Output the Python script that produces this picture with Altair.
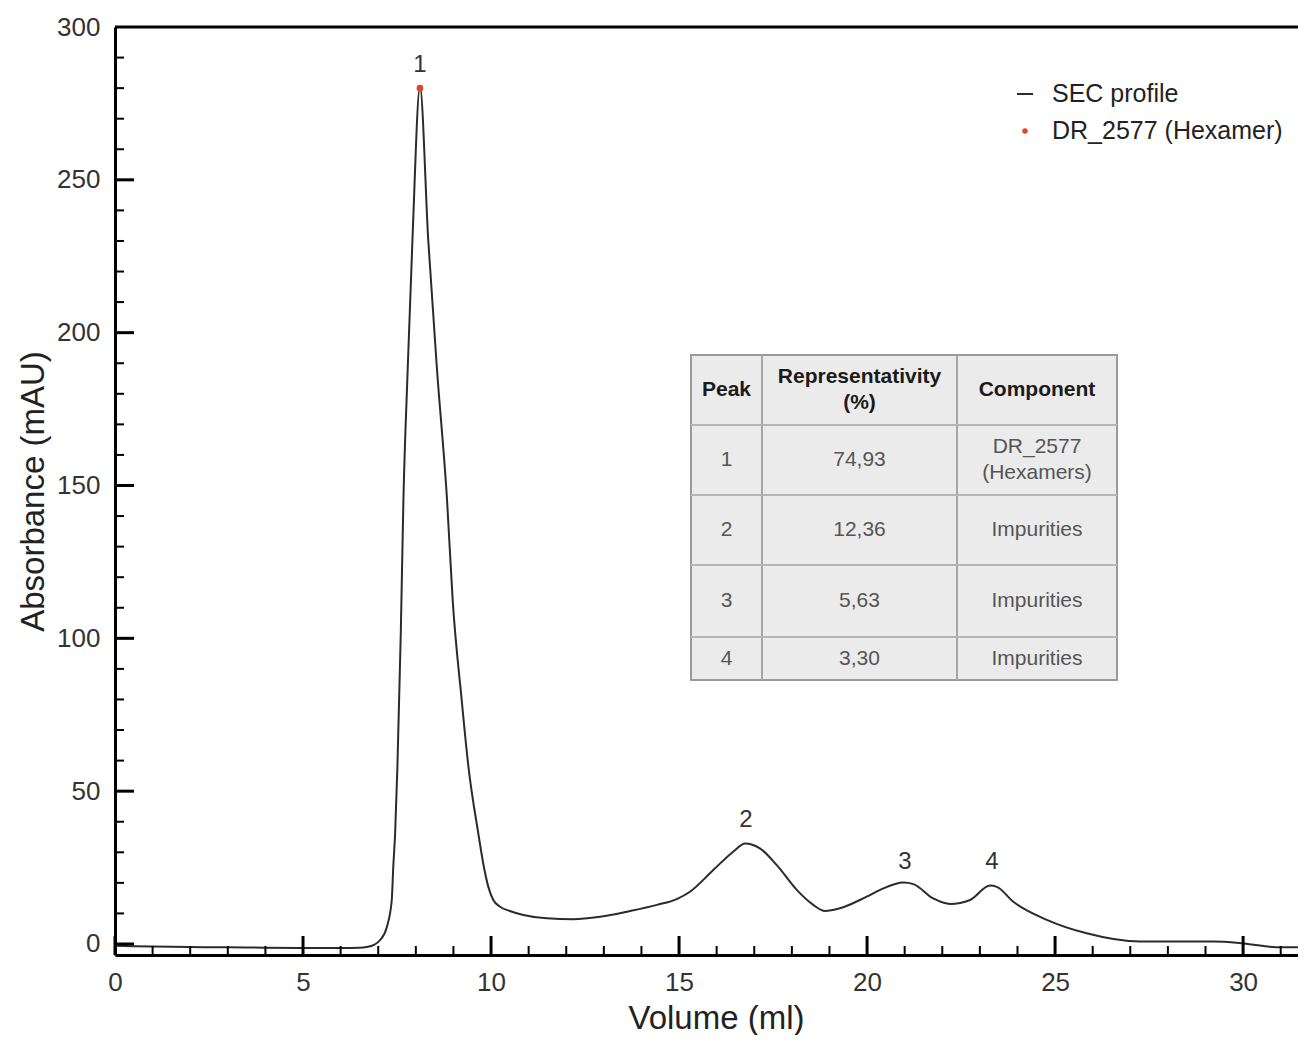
import altair as alt
import pandas as pd

# ---------------- data ----------------
volume = [0, 1, 2, 3, 4, 5, 6, 6.5, 6.69, 6.9, 7.05, 7.23, 7.36, 7.40, 7.45, 7.51,
          7.60, 7.67, 7.78, 7.91, 8.11, 8.33, 8.57, 8.83, 8.98, 9.22, 9.40, 9.66,
          9.81, 9.93, 10.06, 10.24, 10.5, 10.86, 11.48, 12.19, 12.90, 13.70, 14.41,
          14.94, 15.29, 15.91, 16.44, 16.76, 17.15, 17.60, 18.13, 18.57, 18.88,
          19.28, 19.99, 20.35, 20.97, 21.23, 21.76, 22.21, 22.74, 23.27, 23.45,
          23.89, 24.78, 25.84, 27.26, 29.21, 30.01, 30.98, 31.7]
absorbance = [-0.6, -0.8, -1.0, -1.1, -1.2, -1.3, -1.3, -1.2, -1.0, -0.2, 1.3, 5.6,
              14.4, 25.2, 36.3, 57.9, 101.7, 145.3, 186.8, 230.3, 280.5, 230.3,
              186.8, 145.3, 112.5, 79.8, 57.9, 36.3, 25.2, 18.6, 14.4, 12.2, 10.8,
              9.5, 8.4, 8.1, 8.9, 10.8, 12.8, 14.7, 17.1, 24.2, 30.2, 32.9, 31.3,
              25.8, 17.7, 12.8, 10.8, 11.7, 15.5, 17.7, 20.1, 19.6, 14.9, 13.1,
              14.4, 19.1, 18.7, 13.8, 7.9, 3.5, 0.8, 0.8, 0.2, -1.1, -1.1]

peak_labels = ["1", "2", "3", "4"]
peak_label_x = [8.11, 16.78, 21.01, 23.32]
peak_label_y = [287.6, 40.6, 26.8, 26.8]

hexamer_x = [8.11]
hexamer_y = [280.0]

x_major = [0, 5, 10, 15, 20, 25, 30]
x_minor = [i for i in range(0, 32) if i % 5 != 0]
y_major = [0, 50, 100, 150, 200, 250]
y_minor = [i for i in range(0, 300, 10) if i % 50 != 0]
y_labels = [0, 50, 100, 150, 200, 250, 300]

legend_labels = ["SEC profile", "DR_2577 (Hexamer)"]

table_header = ["Peak", "Representativity\n(%)", "Component"]
table_peak = ["1", "2", "3", "4"]
table_repr = ["74,93", "12,36", "5,63", "3,30"]
table_comp = ["DR_2577\n(Hexamers)", "Impurities", "Impurities", "Impurities"]

# ---------------- layout ----------------
W, H = 1183, 928
FONT = "Liberation Sans"
xs = alt.Scale(domain=[0, 31.46], nice=False, zero=False)
ys = alt.Scale(domain=[-3.6, 300], nice=False, zero=False)

x_axis = alt.Axis(
    values=x_major, ticks=False, tickSize=0, grid=False, domainColor="black",
    domainWidth=3, labelFontSize=26, labelColor="#333", labelPadding=14,
    labelFlush=False, labelOverlap=False,
    labelFont=FONT, title="Volume (ml)", titleFont=FONT, titleFontSize=33,
    titleFontWeight="normal", titleColor="#222", titleBaseline="bottom",
    titleY=80, titleX=601)
y_axis = alt.Axis(
    values=y_labels, ticks=False, tickSize=0, grid=False, domainColor="black",
    domainWidth=3, labelFontSize=26, labelColor="#333", labelPadding=15,
    labelFlush=False, labelOverlap=False,
    labelFont=FONT, title="Absorbance (mAU)", titleFont=FONT, titleFontSize=33,
    titleFontWeight="normal", titleColor="#222", titleAngle=270,
    titleBaseline="middle", titleAlign="center", titleX=-82, titleY=H / 2)

def X(field):
    return alt.X(field, scale=xs, axis=x_axis)

def Y(field):
    return alt.Y(field, scale=ys, axis=y_axis)

# table geometry (pixels inside plot area)
col_edges = [576, 647, 842, 1002]
row_edges = [328, 398, 468, 538, 610, 653]
col_centers = [(col_edges[i] + col_edges[i + 1]) / 2 for i in range(3)]
row_centers = [(row_edges[i] + row_edges[i + 1]) / 2 for i in range(5)]
LH = 26

profile = pd.DataFrame({"vol": volume, "abs": absorbance})

line = alt.Chart(profile).mark_line(
    color="#2b2b2b", strokeWidth=2, interpolate="monotone", clip=True
).encode(x=X("vol:Q"), y=Y("abs:Q"))

top_border = alt.Chart(pd.DataFrame({"abs": [300]})).mark_rule(
    color="black", strokeWidth=3
).encode(y=Y("abs:Q"), x=alt.value(0), x2=alt.value(W))

def xticks(vals, length, width):
    return alt.Chart(pd.DataFrame({"vol": vals})).mark_rule(
        color="black", strokeWidth=width
    ).encode(x=X("vol:Q"), y=alt.value(H), y2=alt.value(H - length))

def yticks(vals, length, width):
    return alt.Chart(pd.DataFrame({"abs": vals})).mark_rule(
        color="black", strokeWidth=width
    ).encode(y=Y("abs:Q"), x=alt.value(0), x2=alt.value(length))

peaks = alt.Chart(pd.DataFrame({"vol": peak_label_x, "abs": peak_label_y, "t": peak_labels})).mark_text(
    fontSize=24, font=FONT, color="#333", baseline="middle"
).encode(x=X("vol:Q"), y=Y("abs:Q"), text="t:N")

hexamer = alt.Chart(pd.DataFrame({"vol": hexamer_x, "abs": hexamer_y})).mark_point(
    filled=True, color="#d9482b", size=45, opacity=1
).encode(x=X("vol:Q"), y=Y("abs:Q"))

# legend (pixel placement)
leg_line = alt.Chart(pd.DataFrame({"py": [67]})).mark_rule(color="#2b2b2b", strokeWidth=2).encode(
    y=alt.Y("py:Q", scale=None), x=alt.value(902), x2=alt.value(918))
leg_dot = alt.Chart(pd.DataFrame({"py": [104]})).mark_point(
    filled=True, color="#d9482b", size=30, opacity=1).encode(
    y=alt.Y("py:Q", scale=None), x=alt.value(910))
leg_text = alt.Chart(pd.DataFrame({"t": legend_labels, "py": [67, 104]})).mark_text(
    fontSize=25, font=FONT, color="#222", align="left", baseline="middle").encode(
    y=alt.Y("py:Q", scale=None), x=alt.value(937), text="t:N")

# table
tbl_bg = alt.Chart(pd.DataFrame({"px": [col_edges[0]], "px2": [col_edges[-1]],
                                 "py": [row_edges[0]], "py2": [row_edges[-1]]})).mark_rect(
    fill="#ebebeb", stroke="#9a9a9a", strokeWidth=2).encode(
    x=alt.X("px:Q", scale=None), x2="px2:Q",
    y=alt.Y("py:Q", scale=None), y2="py2:Q")
tbl_v = alt.Chart(pd.DataFrame({"px": col_edges[1:-1]})).mark_rule(color="#a5a5a5", strokeWidth=2).encode(
    x=alt.X("px:Q", scale=None), y=alt.value(row_edges[0]), y2=alt.value(row_edges[-1]))
tbl_h = alt.Chart(pd.DataFrame({"py": row_edges[1:-1]})).mark_rule(color="#b5b5b5", strokeWidth=2).encode(
    y=alt.Y("py:Q", scale=None), x=alt.value(col_edges[0]), x2=alt.value(col_edges[-1]))

def cell_y(text, center):
    n = text.count("\n") + 1
    return center - (n - 1) * LH / 2

hdr = pd.DataFrame({"t": table_header, "px": col_centers,
                    "py": [cell_y(t, row_centers[0]) for t in table_header]})
tbl_hdr = alt.Chart(hdr).mark_text(fontSize=21, font=FONT, fontWeight="bold", color="#1a1a1a",
                                   lineBreak="\n", lineHeight=LH, baseline="middle").encode(
    x=alt.X("px:Q", scale=None), y=alt.Y("py:Q", scale=None), text="t:N")

body_t, body_x, body_y = [], [], []
for r in range(4):
    for c, col in enumerate([table_peak, table_repr, table_comp]):
        body_t.append(col[r]); body_x.append(col_centers[c])
        body_y.append(cell_y(col[r], row_centers[r + 1]))
tbl_body = alt.Chart(pd.DataFrame({"t": body_t, "px": body_x, "py": body_y})).mark_text(
    fontSize=21, font=FONT, color="#555", lineBreak="\n", lineHeight=LH, baseline="middle").encode(
    x=alt.X("px:Q", scale=None), y=alt.Y("py:Q", scale=None), text="t:N")

chart = alt.layer(
    line, top_border,
    xticks(x_major, 19, 3), xticks(x_minor, 9, 2),
    yticks(y_major, 19, 3), yticks(y_minor, 9, 2),
    peaks, hexamer,
    leg_line, leg_dot, leg_text,
    tbl_bg, tbl_v, tbl_h, tbl_hdr, tbl_body,
).properties(
    width=W, height=H,
    autosize=alt.AutoSizeParams(type="none"),
    padding={"left": 107, "top": 19, "right": 0, "bottom": 80},
).configure_view(stroke=None).configure(background="white")

chart.save("out.html", embed_options={"renderer": "svg", "actions": False})
